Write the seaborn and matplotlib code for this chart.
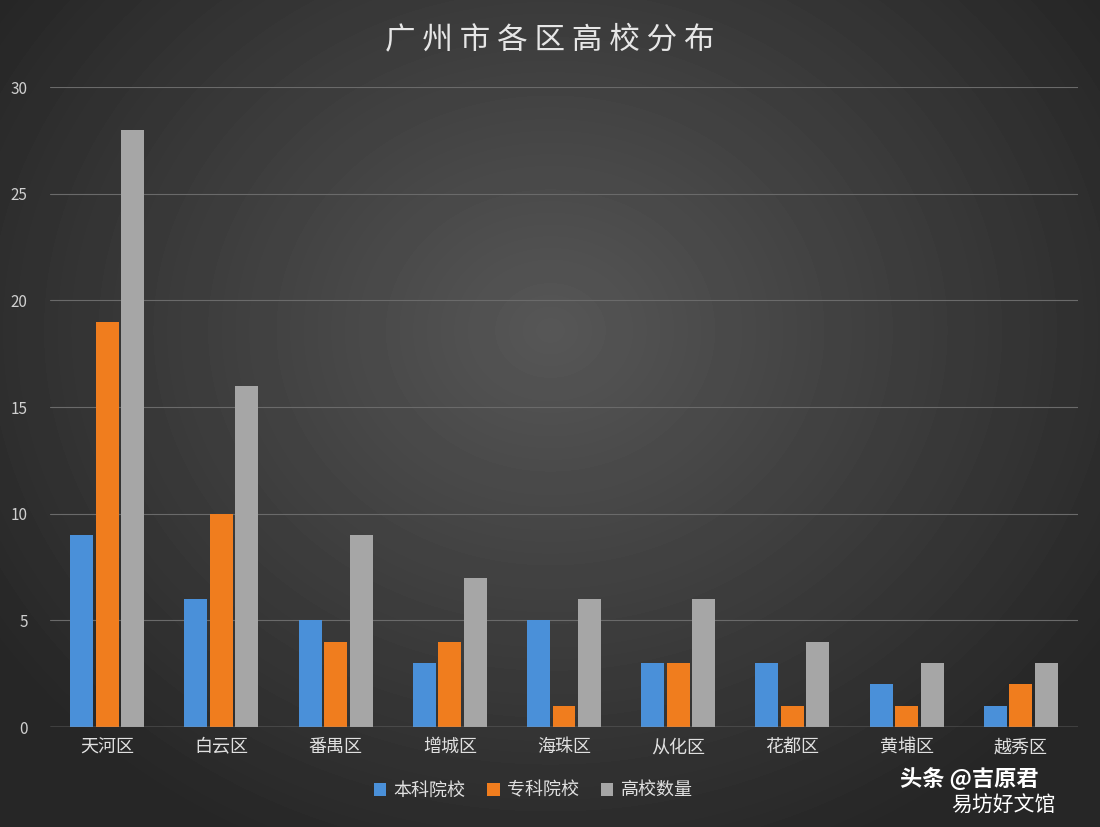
import numpy as np
import pandas as pd
import matplotlib
matplotlib.use("Agg")
import matplotlib.pyplot as plt
import seaborn as sns

districts = ["天河区", "白云区", "番禺区", "增城区", "海珠区", "从化区", "花都区", "黄埔区", "越秀区"]
undergrad = [9, 6, 5, 3, 5, 3, 3, 2, 1]
college = [19, 10, 4, 4, 1, 3, 1, 1, 2]
total = [28, 16, 9, 7, 6, 6, 4, 3, 3]
series = ["本科院校", "专科院校", "高校数量"]
colors = ["#4a90d9", "#f07d1e", "#a6a6a6"]

df = pd.DataFrame({"区": districts * 3,
                   "类型": sum([[s] * len(districts) for s in series], []),
                   "数量": undergrad + college + total})

sns.set_theme(style="dark")
plt.rcParams['font.family'] = ['Noto Sans CJK SC', 'DejaVu Sans']

fig = plt.figure(figsize=(11, 8.27), dpi=100)
bg = fig.add_axes([0, 0, 1, 1], zorder=-10)
yy, xx = np.mgrid[0:827, 0:1100]
r = np.sqrt(((xx - 550) / 700) ** 2 + ((yy - 330) / 600) ** 2)
val = np.clip(0.34 - 0.2 * r, 0.15, 0.4)
bg.imshow(val, cmap="gray", vmin=0, vmax=1, aspect="auto", extent=[0, 1, 0, 1])
bg.axis("off")

ax = fig.add_axes([50 / 1100, 100 / 827, 1028 / 1100, 640 / 827])
ax.patch.set_alpha(0)
sns.barplot(data=df, x="区", y="数量", hue="类型", palette=colors, ax=ax,
            width=0.67, gap=0.1, saturation=1, edgecolor="none", linewidth=0)
ax.set_ylim(0, 30)
ax.set_yticks(range(0, 31, 5))
ax.yaxis.grid(True, color="#6a6a6a", lw=0.8)
ax.set_axisbelow(True)
for s in ax.spines.values():
    s.set_visible(False)
ax.axhline(0, color="#9a9a9a", lw=1)
ax.set_xlabel("")
ax.set_ylabel("")
ax.tick_params(axis="y", colors="#d0d0d0", labelsize=11, pad=16, length=0)
ax.tick_params(axis="x", colors="#e0e0e0", labelsize=13, length=0, pad=8)
ax.legend(loc="upper center", bbox_to_anchor=(0.47, -0.06), ncol=3, frameon=False,
          fontsize=13, labelcolor="#e0e0e0", handlelength=0.7, handleheight=0.7,
          columnspacing=1.2, handletextpad=0.4)
fig.text(0.5, 0.952, "广 州 市 各 区 高 校 分 布", ha="center", va="center",
         fontsize=22, color="#e6e6e6")
fig.text(0.818, 0.05, "头条 @吉原君", fontsize=16, color="white", fontweight="bold")
fig.text(0.865, 0.018, "易坊好文馆", fontsize=15, color="white")
fig.savefig("out.png", dpi=100)
